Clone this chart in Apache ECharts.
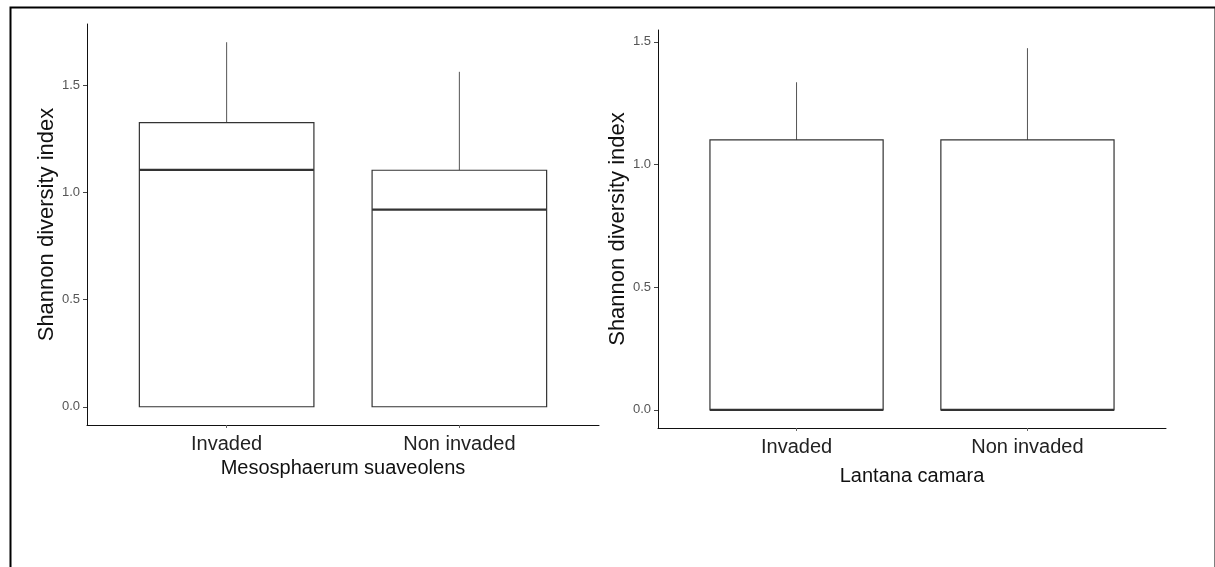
<!DOCTYPE html>
<html>
<head>
<meta charset="utf-8">
<script src="https://cdn.jsdelivr.net/npm/echarts@6/dist/echarts.min.js"></script>
<style>
html,body{margin:0;padding:0;background:#fff;}
#chart{width:1215px;height:567px;}
</style>
</head>
<body>
<div id="chart"></div>
<script>
// Categories and box statistics [min, Q1, median, Q3, max]
const categories = ['Invaded', 'Non invaded'];
const leftTitle = 'Mesosphaerum suaveolens';
const rightTitle = 'Lantana camara';
const yTitle = 'Shannon diversity index';
const leftStats = [
  [0, 0, 1.105, 1.325, 1.700],
  [0, 0, 0.919, 1.103, 1.562]
];
const rightStats = [
  [0, 0, 0, 1.100, 1.335],
  [0, 0, 0, 1.100, 1.474]
];
const yTicks = [0, 0.5, 1.0, 1.5];
const xTicks = [1, 2];

const FONT = '"Liberation Sans", Arial, sans-serif';

function toData(stats) {
  return stats.map((s, i) => [i + 1].concat(s));
}

function renderBox(params, api) {
  const x = api.value(0);
  const lo = api.value(1), q1 = api.value(2), med = api.value(3), q3 = api.value(4), hi = api.value(5);
  const half = 0.375;
  const tl = api.coord([x - half, q3]);
  const br = api.coord([x + half, q1]);
  const mL = api.coord([x - half, med]);
  const mR = api.coord([x + half, med]);
  const cTop = api.coord([x, hi]);
  const cQ3 = api.coord([x, q3]);
  const cQ1 = api.coord([x, q1]);
  const cLo = api.coord([x, lo]);
  const children = [];
  if (hi > q3) {
    children.push({type: 'line', shape: {x1: cQ3[0], y1: cQ3[1], x2: cTop[0], y2: cTop[1]},
      style: {stroke: '#555', lineWidth: 1}});
  }
  if (lo < q1) {
    children.push({type: 'line', shape: {x1: cQ1[0], y1: cQ1[1], x2: cLo[0], y2: cLo[1]},
      style: {stroke: '#555', lineWidth: 1}});
  }
  children.push({type: 'rect', shape: {x: tl[0], y: tl[1], width: br[0] - tl[0], height: br[1] - tl[1]},
    style: {fill: '#fff', stroke: '#333', lineWidth: 1.2}});
  children.push({type: 'line', shape: {x1: mL[0], y1: mL[1], x2: mR[0], y2: mR[1]},
    style: {stroke: '#333', lineWidth: 2.2}});
  return {type: 'group', children: children};
}

function xAxisCfg(gridIndex, name, nameGap) {
  return {
    type: 'value', gridIndex: gridIndex, min: 0.4, max: 2.6,
    name: name, nameLocation: 'middle', nameGap: nameGap,
    nameTextStyle: {fontFamily: FONT, fontSize: 20, color: '#111'},
    axisLine: {show: true, onZero: false, lineStyle: {color: '#111', width: 1}},
    axisTick: {show: true, length: 3, customValues: xTicks, lineStyle: {color: '#666'}},
    axisLabel: {show: true, customValues: xTicks, margin: 9, fontFamily: FONT, fontSize: 20, color: '#222',
      formatter: v => categories[Math.round(v) - 1] || ''},
    splitLine: {show: false}
  };
}

function yAxisCfg(gridIndex, min, max, nameGap) {
  return {
    type: 'value', gridIndex: gridIndex, min: min, max: max,
    name: yTitle, nameLocation: 'middle', nameGap: nameGap, nameRotate: 90,
    nameTextStyle: {fontFamily: FONT, fontSize: 22, color: '#111'},
    axisLine: {show: true, onZero: false, lineStyle: {color: '#111', width: 1}},
    axisTick: {show: true, length: 4, customValues: yTicks, lineStyle: {color: '#444'}},
    axisLabel: {show: true, customValues: yTicks, margin: 7, fontFamily: FONT, fontSize: 13, color: '#555',
      formatter: v => v.toFixed(1)},
    splitLine: {show: false}
  };
}

const chart = echarts.init(document.getElementById('chart'), null, {renderer: 'canvas'});
chart.setOption({
  backgroundColor: '#fff',
  animation: false,
  graphic: [{
    type: 'rect', left: 8, top: 5, z: 100,
    shape: {x: 0, y: 0, width: 1205, height: 600},
    style: {fill: 'none', stroke: '#000', lineWidth: 2}
  }],
  grid: [
    {left: 87, top: 24, width: 512, height: 401},
    {left: 658, top: 30, width: 508, height: 398}
  ],
  xAxis: [xAxisCfg(0, leftTitle, 31), xAxisCfg(1, rightTitle, 38)],
  yAxis: [yAxisCfg(0, -0.085, 1.785, 27), yAxisCfg(1, -0.074, 1.548, 26)],
  series: [
    {type: 'custom', xAxisIndex: 0, yAxisIndex: 0, renderItem: renderBox,
      encode: {x: 0, y: [1, 2, 3, 4, 5]}, data: toData(leftStats), silent: true},
    {type: 'custom', xAxisIndex: 1, yAxisIndex: 1, renderItem: renderBox,
      encode: {x: 0, y: [1, 2, 3, 4, 5]}, data: toData(rightStats), silent: true}
  ]
});
</script>
</body>
</html>
